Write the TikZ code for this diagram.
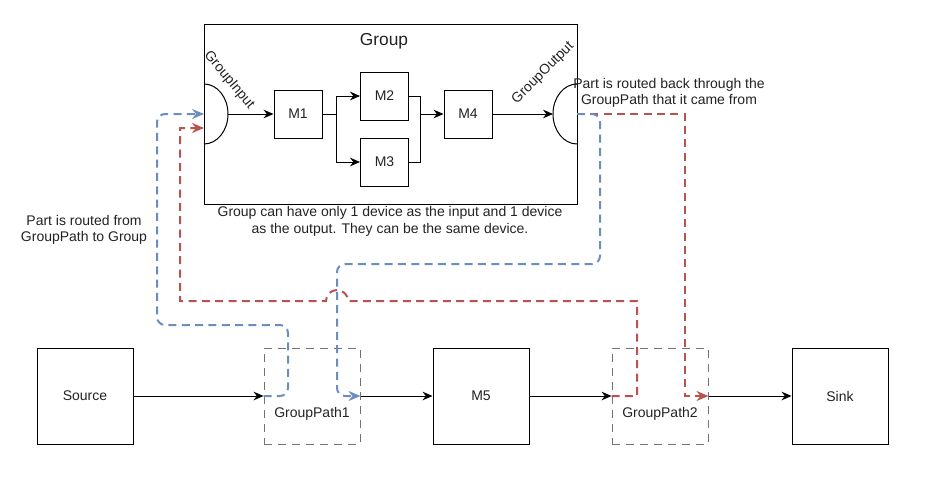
\documentclass[tikz,border=0pt]{standalone}
\usepackage{fontspec}
\setmainfont{Liberation Sans}
\usetikzlibrary{arrows.meta}
\definecolor{myblue}{HTML}{6C8EBF}
\definecolor{myred}{HTML}{B85450}
\definecolor{txt}{HTML}{222222}
\begin{document}
\begin{tikzpicture}[x=0.75pt,y=-0.75pt,
  box/.style={draw,line width=0.75pt,minimum width=36pt,minimum height=36pt,inner sep=0pt,text=txt,font=\fontsize{10.5}{12}\selectfont},
  bigbox/.style={box,minimum width=72pt,minimum height=72pt},
  gpbox/.style={draw=black!55,dash pattern=on 6pt off 4.5pt,line width=0.75pt,minimum width=72pt,minimum height=72pt,inner sep=0pt},
  flow/.style={line width=0.75pt,-{Stealth[length=7.5pt,width=6.5pt,inset=2.5pt]}},
  plain/.style={line width=0.75pt},
  route/.style={line width=1.5pt,dash pattern=on 6pt off 4pt},
  blueroute/.style={route,draw=myblue,rounded corners=6pt,-{Stealth[length=9pt,width=7.5pt,inset=3pt,fill=myblue]}},
  redroute/.style={route,draw=myred,-{Stealth[length=9pt,width=7.5pt,inset=3pt,fill=myred]}},
  lbl/.style={font=\fontsize{10.5}{12.5}\selectfont,align=center,text=txt,inner sep=0pt}]
\useasboundingbox (0,0) rectangle (926,482);

% group
\node[draw,line width=0.75pt,minimum width=279.75pt,minimum height=135pt,inner sep=0pt] (group) at (390.5,114) {};
\node[font=\fontsize{13}{15}\selectfont,text=txt] (grouplbl) at (384,41) {Group};

% group input / output
\draw[plain] (204,84) arc[start angle=90,end angle=-90,x radius=18pt,y radius=22.5pt];
\coordinate (gi) at (204,114);
\coordinate (giL) at (204,128);
\coordinate (giE) at (228,114);
\draw[plain] (577,84) arc[start angle=90,end angle=270,x radius=18pt,y radius=22.5pt];
\coordinate (go) at (577,114);
\coordinate (goW) at (553,114);
\node[lbl,rotate=-50] (gilbl) at (229,80) {GroupInput};
\node[lbl,rotate=45] (golbl) at (543,73) {GroupOutput};

% inner devices
\node[box] (m1) at (298,114) {M1};
\node[box] (m2) at (384.5,96) {M2};
\node[box] (m3) at (384.5,162) {M3};
\node[box] (m4) at (468,114) {M4};

\draw[flow] (giE) -- (m1.west);
\draw[flow] (m1.east) -- ++(14,0) |- (m2.west);
\draw[flow] (m1.east) -- ++(14,0) |- (m3.west);
\draw[plain] (m2.east) -- ++(11,0) coordinate (j) |- (m3.east);
\draw[flow] (j |- m4.west) -- (m4.west);
\draw[flow] (m4.east) -- (goW);

% bottom row
\node[bigbox] (source) at (85,396) {Source};
\node[gpbox] (gp1) at (312,396) {};
\node[bigbox] (m5) at (481,396) {M5};
\node[gpbox] (gp2) at (660,396) {};
\node[bigbox] (sink) at (840,396) {Sink};
\node[lbl] (gp1lbl) at (312,414) {GroupPath1};
\node[lbl] (gp2lbl) at (660,414) {GroupPath2};

\draw[flow] (source.east) -- (gp1.west);
\draw[flow] (gp1.east) -- (m5.west);
\draw[flow] (m5.east) -- (gp2.west);
\draw[flow] (gp2.east) -- (sink.west);

% routes
\draw[redroute] (gp2.west) -- (637,396) -- (637,301) -- (348,301)
  arc[start angle=0,end angle=180,radius=8.25pt] -- (180,301) -- (180,128) -- (giL);
\draw[redroute] (go) -- (685,114) -- (685,396) -- (gp2.east);
\draw[blueroute] (gp1.west) -- (288,396) -- (288,325) -- (157,325) -- (157,114) -- (gi);
\draw[blueroute] (go) -- (600,114) -- (600,264) -- (337,264) -- (337,396) -- (gp1.east);

% notes
\node[lbl] (note1) at (669,93) {Part is routed back through the\\GroupPath that it came from};
\node[lbl,font=\fontsize{10.5}{12.75}\selectfont] (note2) at (390,221) {Group can have only 1 device as the input and 1 device\\as the output. They can be the same device.};
\node[lbl] (note3) at (84,230) {Part is routed from\\GroupPath to Group};
\end{tikzpicture}
\end{document}
